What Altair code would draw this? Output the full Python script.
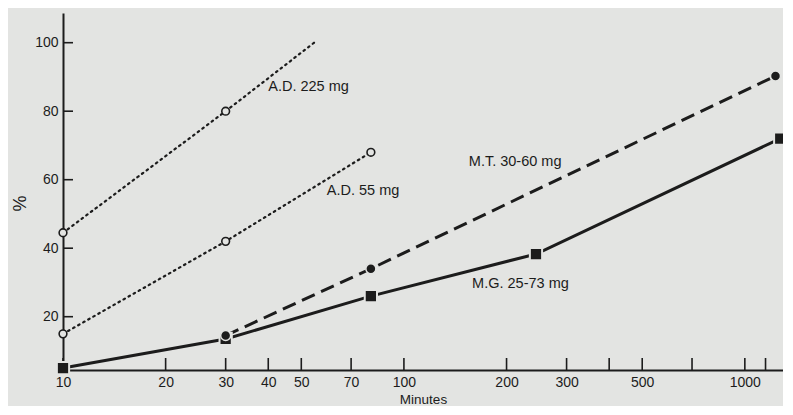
import altair as alt
import pandas as pd

# ---- data ----
ad225_min = [10, 30, 54.5]
ad225_pct = [44.5, 80, 100]
ad225_marked = [True, True, False]

ad55_min = [10, 30, 80]
ad55_pct = [15, 42, 68]

mt_min = [30, 80, 1230]
mt_pct = [14.5, 34, 90.3]

mg_min = [10, 30, 80, 244, 1270]
mg_pct = [5, 13.5, 26, 38.3, 72]

x_tick_values = [10, 20, 30, 40, 50, 70, 100, 200, 300, 400, 500, 700, 1000, 1150]
x_label_values = [10, 20, 30, 40, 50, 70, 100, 200, 300, 500, 1000]
y_tick_values = [20, 40, 60, 80, 100]

label_texts = ["A.D. 225 mg", "A.D. 55 mg", "M.T. 30-60 mg", "M.G. 25-73 mg"]
label_min = [40, 59.4, 155, 158.5]
label_pct = [87, 56.6, 65.2, 29.6]

BG = "#e3e4e2"
INK = "#1c1c1c"
FONT = "Liberation Sans"
W, H = 720, 357

ad225 = pd.DataFrame({"minutes": ad225_min, "pct": ad225_pct, "marked": ad225_marked})
ad55 = pd.DataFrame({"minutes": ad55_min, "pct": ad55_pct})
mt = pd.DataFrame({"minutes": mt_min, "pct": mt_pct})
mg = pd.DataFrame({"minutes": mg_min, "pct": mg_pct})
xt = pd.DataFrame({"minutes": x_tick_values})
yt = pd.DataFrame({"pct": y_tick_values})
labels = pd.DataFrame({"text": label_texts, "minutes": label_min, "pct": label_pct})

X = alt.X(
    "minutes:Q",
    scale=alt.Scale(type="log", domain=[10, 1294], nice=False, zero=False),
    axis=alt.Axis(
        values=x_label_values, format="d", title="Minutes", tickSize=0,
        labelPadding=5, grid=False, titleY=29, titleBaseline="middle",
        titleFontSize=13.5, labelFlush=False,
    ),
)
Y = alt.Y(
    "pct:Q",
    scale=alt.Scale(domain=[4.44, 108.67], nice=False, zero=False),
    axis=alt.Axis(
        values=y_tick_values, title="%", tickSize=0, labelPadding=5, grid=False,
        titleFontSize=18, titleAngle=270, titleX=-43, titleY=190,
        titleAlign="center", titleBaseline="middle",
    ),
)

dotted = dict(color=INK, strokeWidth=2.2, strokeDash=[1.6, 4.2], strokeCap="round")

l_ad225 = alt.Chart(ad225).mark_line(**dotted).encode(x=X, y=Y)
l_ad55 = alt.Chart(ad55).mark_line(**dotted).encode(x=X, y=Y)
l_mt = alt.Chart(mt).mark_line(color=INK, strokeWidth=3, strokeDash=[14, 7]).encode(x=X, y=Y)
l_mg = alt.Chart(mg).mark_line(color=INK, strokeWidth=3).encode(x=X, y=Y)

open_pts = alt.Chart(pd.concat([ad225[ad225["marked"]], ad55])).mark_point(
    shape="circle", filled=True, fill=BG, stroke=INK, strokeWidth=1.6, size=60, opacity=1
).encode(x=X, y=Y)
sq_pts = alt.Chart(mg).mark_point(
    shape="square", filled=True, fill=INK, stroke=BG, strokeWidth=2, size=150, opacity=1
).encode(x=X, y=Y)
circ_pts = alt.Chart(mt).mark_point(
    shape="circle", filled=True, fill=INK, stroke=BG, strokeWidth=1.5, size=100, opacity=1
).encode(x=X, y=Y)

x_ticks = alt.Chart(xt).mark_rule(color=INK, strokeWidth=1.6).encode(
    x=X, y=alt.value(H), y2=alt.value(H - 12)
)
y_ticks = alt.Chart(yt).mark_rule(color=INK, strokeWidth=1.6).encode(
    y=Y, x=alt.value(0), x2=alt.value(10)
)

texts = alt.Chart(labels).mark_text(
    align="left", baseline="middle", font=FONT, fontSize=14.5, color=INK
).encode(x=X, y=Y, text="text:N")

chart = alt.layer(
    l_ad225, l_ad55, l_mt, l_mg, x_ticks, y_ticks, open_pts, sq_pts, circ_pts, texts
).properties(
    width=W, height=H, background=BG,
    autosize=alt.AutoSizeParams(type="none"),
    padding={"left": 55, "top": 5, "right": 0, "bottom": 36},
).configure_view(stroke=None).configure_axis(
    domainColor=INK, domainWidth=2, labelFont=FONT, labelFontSize=14,
    labelColor=INK, titleFont=FONT, titleColor=INK, titleFontWeight="normal",
)

chart.save("out.html", embed_options={"renderer": "svg", "actions": False})
